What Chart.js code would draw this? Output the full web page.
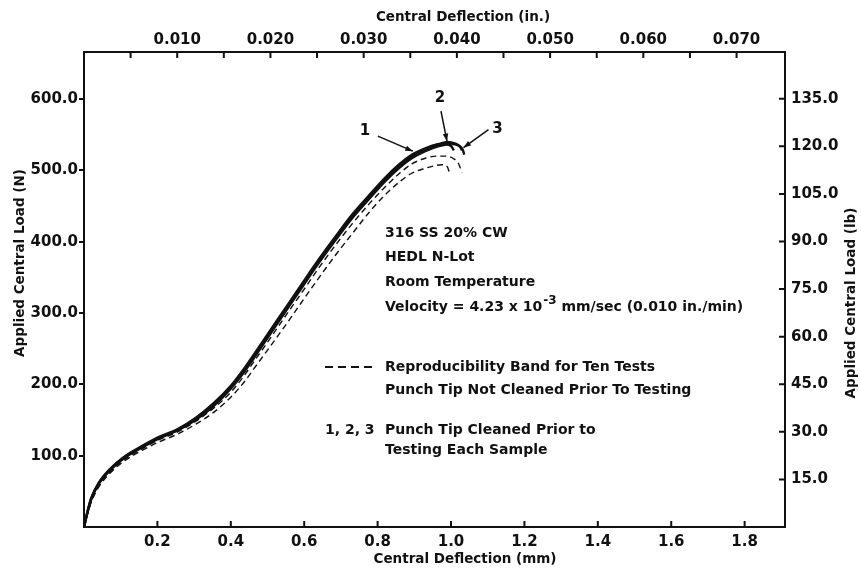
<!DOCTYPE html>
<html>
<head>
<meta charset="utf-8">
<title>Applied Central Load vs Central Deflection</title>
<script src="https://cdn.jsdelivr.net/npm/chart.js@4.4.0/dist/chart.umd.min.js"></script>
<style>
    html, body { margin: 0; padding: 0; background: #fff; }
    #wrap { width: 861px; height: 569px; position: relative; }
</style>
</head>
<body>
<div id="wrap"><canvas id="chart"></canvas></div>
<script>
// ================================
// Data
// ================================

const MM_PER_IN = 25.4;
const N_PER_LB = 4.448;

// deflection in mm, load in N
const curve1X = [0, 0.01, 0.02, 0.04, 0.07, 0.108, 0.153, 0.203, 0.254, 0.304, 0.354, 0.40, 0.436, 0.463, 0.50, 0.545, 0.59, 0.638, 0.685, 0.729, 0.775, 0.819, 0.86, 0.893, 0.93, 0.96, 0.985, 1.0, 1.008];
const curve1Y = [0, 23, 41, 62, 81, 98, 112, 126, 137, 153, 174, 198, 222, 242, 270, 304, 338, 374, 407, 437, 464, 489, 509, 522, 531, 536, 537, 534, 528];

const curve2X = [0, 0.01, 0.02, 0.04, 0.07, 0.108, 0.153, 0.203, 0.254, 0.304, 0.354, 0.40, 0.436, 0.463, 0.50, 0.545, 0.59, 0.638, 0.685, 0.729, 0.775, 0.819, 0.86, 0.893, 0.93, 0.967, 0.99, 1.01, 1.025, 1.03];
const curve2Y = [0, 22, 40, 61, 80, 97, 111, 125, 136, 152, 172, 196, 220, 240, 268, 302, 336, 372, 405, 435, 462, 487, 507, 520, 530, 537, 540, 538, 533, 528];

const curve3X = [0, 0.01, 0.02, 0.04, 0.07, 0.108, 0.153, 0.203, 0.254, 0.304, 0.354, 0.40, 0.436, 0.463, 0.50, 0.545, 0.59, 0.638, 0.685, 0.729, 0.775, 0.819, 0.86, 0.893, 0.93, 0.967, 1.0, 1.02, 1.032, 1.036];
const curve3Y = [0, 21, 39, 60, 79, 96, 110, 124, 135, 150, 170, 194, 217, 237, 265, 299, 333, 369, 402, 432, 459, 484, 504, 517, 527, 534, 537, 535, 529, 522];

const bandUpperX = [0, 0.01, 0.02, 0.04, 0.07, 0.108, 0.153, 0.203, 0.254, 0.304, 0.354, 0.40, 0.436, 0.463, 0.50, 0.545, 0.59, 0.638, 0.685, 0.729, 0.775, 0.819, 0.86, 0.893, 0.93, 0.96, 0.985, 1.005, 1.02, 1.03];
const bandUpperY = [0, 20, 37, 58, 77, 94, 108, 122, 133, 148, 167, 189, 212, 232, 259, 293, 326, 362, 395, 424, 452, 476, 496, 509, 517, 520, 520, 517, 510, 497];

const bandLowerX = [0, 0.01, 0.02, 0.04, 0.07, 0.108, 0.153, 0.203, 0.254, 0.304, 0.354, 0.40, 0.436, 0.463, 0.50, 0.545, 0.59, 0.638, 0.685, 0.729, 0.775, 0.819, 0.86, 0.893, 0.93, 0.96, 0.975, 0.99, 0.995];
const bandLowerY = [0, 19, 35, 56, 75, 92, 106, 119, 130, 144, 161, 182, 203, 222, 248, 280, 313, 348, 381, 410, 440, 465, 484, 496, 503, 507, 508, 505, 498];

// axes
const xMaxMm = 1.91;
const yMaxN = 666;
const xTicksMm = [0.2, 0.4, 0.6, 0.8, 1.0, 1.2, 1.4, 1.6, 1.8];
const xTicksIn = [0.005, 0.010, 0.015, 0.020, 0.025, 0.030, 0.035, 0.040, 0.045, 0.050, 0.055, 0.060, 0.065, 0.070];
const yTicksN = [100, 200, 300, 400, 500, 600];
const yTicksLb = [15, 30, 45, 60, 75, 90, 105, 120, 135];

// curve callouts: label and the point (mm, N) the arrow points at
const calloutLabels = ['1', '2', '3'];
const calloutTipX = [0.896, 0.989, 1.034];
const calloutTipY = [527, 541, 532];

// ================================
// Styles
// ================================

const INK = '#111';
const FONT = "'DejaVu Sans', 'Liberation Sans', sans-serif";
Chart.defaults.font.family = FONT;
Chart.defaults.font.weight = 'bold';
Chart.defaults.color = INK;

const toPoints = (xs, ys) => xs.map((x, i) => ({ x: x, y: ys[i] }));

const solid = (label, xs, ys) => ({
    label: label,
    data: toPoints(xs, ys),
    borderColor: INK,
    borderWidth: 2.4,
    pointRadius: 0,
    cubicInterpolationMode: 'monotone',
    fill: false
});

const dashed = (label, xs, ys) => ({
    label: label,
    data: toPoints(xs, ys),
    borderColor: INK,
    borderWidth: 1.4,
    borderDash: [6, 4],
    pointRadius: 0,
    cubicInterpolationMode: 'monotone',
    fill: false
});

// Inward tick marks on bottom, top and right axes
const tickMarks = {
    id: 'tickMarks',
    afterDraw(chart) {
        const { ctx, chartArea: a, scales } = chart;
        ctx.save();
        ctx.strokeStyle = INK;
        ctx.lineWidth = 2;
        ctx.beginPath();
        xTicksMm.forEach(v => {
            const px = scales.x.getPixelForValue(v);
            ctx.moveTo(px, a.bottom);
            ctx.lineTo(px, a.bottom - 6);
        });
        xTicksIn.forEach(v => {
            const px = scales.x2.getPixelForValue(v);
            ctx.moveTo(px, a.top);
            ctx.lineTo(px, a.top + 6);
        });
        yTicksLb.forEach(v => {
            const py = scales.y2.getPixelForValue(v);
            ctx.moveTo(a.right, py);
            ctx.lineTo(a.right - 6, py);
        });
        ctx.stroke();
        ctx.restore();
    }
};

function arrow(ctx, x0, y0, x1, y1) {
    const ang = Math.atan2(y1 - y0, x1 - x0);
    ctx.beginPath();
    ctx.moveTo(x0, y0);
    ctx.lineTo(x1, y1);
    ctx.stroke();
    ctx.beginPath();
    ctx.moveTo(x1, y1);
    ctx.lineTo(x1 - 8 * Math.cos(ang - 0.35), y1 - 8 * Math.sin(ang - 0.35));
    ctx.lineTo(x1 - 8 * Math.cos(ang + 0.35), y1 - 8 * Math.sin(ang + 0.35));
    ctx.closePath();
    ctx.fill();
}

// Axis titles, notes and curve callouts
const notes = {
    id: 'notes',
    afterDraw(chart) {
        const { ctx, scales } = chart;
        ctx.save();
        ctx.fillStyle = INK;
        ctx.strokeStyle = INK;
        ctx.textBaseline = 'middle';

        // axis titles
        ctx.font = 'bold 13.5px ' + FONT;
        ctx.textAlign = 'center';
        ctx.fillText('Central Deflection (in.)', 463, 17);
        ctx.fillText('Central Deflection (mm)', 465, 559);
        ctx.save();
        ctx.translate(20, 263);
        ctx.rotate(-Math.PI / 2);
        ctx.fillText('Applied Central Load (N)', 0, 0);
        ctx.restore();
        ctx.save();
        ctx.translate(851, 303);
        ctx.rotate(-Math.PI / 2);
        ctx.fillText('Applied Central Load (lb)', 0, 0);
        ctx.restore();

        // notes block
        ctx.textAlign = 'left';
        ctx.font = 'bold 14px ' + FONT;
        ctx.fillText('316 SS 20% CW', 385, 233);
        ctx.fillText('HEDL N-Lot', 385, 257);
        ctx.fillText('Room Temperature', 385, 282);

        let x = 385;
        const part1 = 'Velocity = 4.23 x 10';
        ctx.fillText(part1, x, 307);
        x += ctx.measureText(part1).width + 1;
        ctx.font = 'bold 12px ' + FONT;
        ctx.fillText('-3', x, 301);
        x += ctx.measureText('-3').width;
        ctx.font = 'bold 14px ' + FONT;
        ctx.fillText(' mm/sec (0.010 in./min)', x, 307);

        ctx.save();
        ctx.lineWidth = 2;
        ctx.setLineDash([8, 5]);
        ctx.beginPath();
        ctx.moveTo(325, 367);
        ctx.lineTo(372, 367);
        ctx.stroke();
        ctx.restore();
        ctx.fillText('Reproducibility Band for Ten Tests', 385, 367);
        ctx.fillText('Punch Tip Not Cleaned Prior To Testing', 385, 390);
        ctx.fillText('1, 2, 3', 325, 430);
        ctx.fillText('Punch Tip Cleaned Prior to', 385, 430);
        ctx.fillText('Testing Each Sample', 385, 450);

        // callouts
        const offsets = [[-48, -20, -35, -15], [-7, -43, -6, -30], [34, -18, 25, -18]];
        ctx.font = 'bold 15px ' + FONT;
        ctx.textAlign = 'center';
        ctx.lineWidth = 1.5;
        calloutLabels.forEach((lab, i) => {
            const tx = scales.x.getPixelForValue(calloutTipX[i]);
            const ty = scales.y.getPixelForValue(calloutTipY[i]);
            const o = offsets[i];
            ctx.fillText(lab, tx + o[0], ty + o[1]);
            arrow(ctx, tx + o[2], ty + o[3], tx, ty);
        });
        ctx.restore();
    }
};

const tickFont = { size: 15, weight: 'bold', family: FONT };

new Chart(document.getElementById('chart'), {
    type: 'line',
    data: {
        datasets: [
            dashed('Reproducibility band (upper)', bandUpperX, bandUpperY),
            dashed('Reproducibility band (lower)', bandLowerX, bandLowerY),
            solid('1', curve1X, curve1Y),
            solid('2', curve2X, curve2Y),
            solid('3', curve3X, curve3Y)
        ]
    },
    options: {
        responsive: true,
        maintainAspectRatio: false,
        animation: false,
        layout: { padding: 0 },
        plugins: {
            legend: { display: false },
            tooltip: { enabled: false }
        },
        scales: {
            x: {
                type: 'linear',
                position: 'bottom',
                min: 0,
                max: xMaxMm,
                afterBuildTicks: s => { s.ticks = xTicksMm.map(v => ({ value: v })); },
                afterFit: s => { s.height = 42; },
                grid: { display: false, drawTicks: false },
                border: { display: true, color: INK, width: 2 },
                ticks: { font: tickFont, color: INK, padding: 6, maxRotation: 0, autoSkip: false,
                         callback: v => v.toFixed(1) }
            },
            x2: {
                type: 'linear',
                axis: 'x',
                position: 'top',
                min: 0,
                max: xMaxMm / MM_PER_IN,
                afterBuildTicks: s => { s.ticks = xTicksIn.map(v => ({ value: v })); },
                afterFit: s => { s.height = 52; },
                grid: { display: false, drawTicks: false },
                border: { display: true, color: INK, width: 2 },
                ticks: { font: tickFont, color: INK, padding: 3, maxRotation: 0, autoSkip: false,
                         callback: v => (Math.round(v * 1000) % 10 === 0 ? v.toFixed(3) : '') }
            },
            y: {
                type: 'linear',
                position: 'left',
                min: 0,
                max: yMaxN,
                afterBuildTicks: s => { s.ticks = yTicksN.map(v => ({ value: v })); },
                afterFit: s => { s.width = 84; },
                grid: { display: true, drawOnChartArea: false, drawTicks: true, tickLength: 5, color: INK, lineWidth: 2 },
                border: { display: true, color: INK, width: 2 },
                ticks: { font: tickFont, color: INK, padding: 1, callback: v => v.toFixed(1) }
            },
            y2: {
                type: 'linear',
                axis: 'y',
                position: 'right',
                min: 0,
                max: yMaxN / N_PER_LB,
                afterBuildTicks: s => { s.ticks = yTicksLb.map(v => ({ value: v })); },
                afterFit: s => { s.width = 76; },
                grid: { display: false, drawTicks: false },
                border: { display: true, color: INK, width: 2 },
                ticks: { font: tickFont, color: INK, padding: 6, callback: v => v.toFixed(1) }
            }
        }
    },
    plugins: [tickMarks, notes]
});
</script>
</body>
</html>
